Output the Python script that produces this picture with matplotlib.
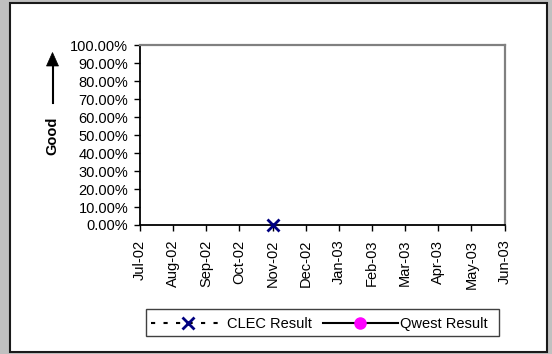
import matplotlib
matplotlib.use("Agg")
import matplotlib.pyplot as plt
from matplotlib.patches import Rectangle
from matplotlib.lines import Line2D
import numpy as np

months = ["Jul-02", "Aug-02", "Sep-02", "Oct-02", "Nov-02", "Dec-02",
          "Jan-03", "Feb-03", "Mar-03", "Apr-03", "May-03", "Jun-03"]
clec_result = [None, None, None, None, 0.0, None, None, None, None, None, None, None]
qwest_result = [None] * 12
y_ticks = [0.0, 0.1, 0.2, 0.3, 0.4, 0.5, 0.6, 0.7, 0.8, 0.9, 1.0]
series_names = ["CLEC Result", "Qwest Result"]

plt.rcParams['font.family'] = ['Liberation Sans', 'DejaVu Sans']

W, H = 552, 354
fig = plt.figure(figsize=(W / 100, H / 100), dpi=100)
fig.patch.set_facecolor('#c0c0c0')

def fx(px):
    return px / W

def fy(py):
    return 1 - py / H

# white panel with dark border
fig.patches.append(Rectangle((fx(10), fy(352)), fx(547) - fx(10), fy(3) - fy(352),
                             transform=fig.transFigure, facecolor='white',
                             edgecolor='#1a1a1a', linewidth=1.5, zorder=-10))

L, T, R, B = 140, 45.3, 504.5, 225
ax = fig.add_axes([fx(L), fy(B), fx(R) - fx(L), fy(T) - fy(B)])
ax.set_facecolor('white')
ax.set_zorder(1)

x = np.arange(len(months))
clec = np.array([np.nan if v is None else v for v in clec_result], dtype=float)
qwest = np.array([np.nan if v is None else v for v in qwest_result], dtype=float)

clec_style = dict(linestyle=(0, (2, 4)), color='black', linewidth=1.5,
                  marker='x', markersize=8, markeredgewidth=2, markeredgecolor='#000080')
qwest_style = dict(linestyle='-', color='black', linewidth=1.5,
                   marker='o', markersize=8, markerfacecolor='magenta', markeredgecolor='magenta')

ax.plot(x, clec, clip_on=False, zorder=5, **clec_style)
ax.plot(x, qwest, clip_on=False, zorder=5, **qwest_style)

ax.set_xlim(0, len(months) - 1)
ax.set_ylim(0, 1)
ax.set_xticks(x)
ax.set_xticklabels(months, rotation=90, fontsize=10.5)
ax.set_yticks(y_ticks)
ax.set_yticklabels([f"{v * 100:.2f}%" for v in y_ticks], fontsize=10.5)
ax.tick_params(axis='both', direction='out', length=4.5, width=1, color='black')
ax.tick_params(axis='y', pad=4)
ax.tick_params(axis='x', pad=6)

for side in ['left', 'bottom']:
    ax.spines[side].set_color('black')
    ax.spines[side].set_linewidth(1.3)
for side in ['right', 'top']:
    ax.spines[side].set_color('#808080')
    ax.spines[side].set_linewidth(1.6)

# "Good" label and arrow
fig.text(fx(52.5), fy(135.5), "Good", rotation=90, fontsize=10.5, fontweight='bold',
         ha='center', va='center')
fig.lines.append(Line2D([fx(52.5), fx(52.5)], [fy(103), fy(64)], transform=fig.transFigure,
                        color='black', linewidth=1.5))
fig.patches.append(plt.Polygon([[fx(46.5), fy(66)], [fx(58.5), fy(66)], [fx(52.5), fy(52.5)]],
                               closed=True, transform=fig.transFigure,
                               facecolor='black', edgecolor='black', linewidth=0.5))

# legend (drawn manually for exact placement)
lx0, ly0, lx1, ly1 = 146, 309, 499, 336
fig.patches.append(Rectangle((fx(lx0), fy(ly1)), fx(lx1) - fx(lx0), fy(ly0) - fy(ly1),
                             transform=fig.transFigure, facecolor='white',
                             edgecolor='#404040', linewidth=1.0, zorder=2))
ly = (ly0 + ly1) / 2
items = [(series_names[0], clec_style, 151, 225, 188, 227),
         (series_names[1], qwest_style, 323, 398, 360, 400)]
for name, st, hx0, hx1, mx, tx in items:
    line_only = {k: v for k, v in st.items() if not k.startswith('marker')}
    fig.lines.append(Line2D([fx(hx0), fx(hx1)], [fy(ly), fy(ly)], transform=fig.transFigure,
                            zorder=3, **line_only))
    fig.lines.append(Line2D([fx(mx)], [fy(ly)], transform=fig.transFigure, zorder=4,
                            linestyle='none',
                            **{k: v for k, v in st.items() if k.startswith('marker')}))
    fig.text(fx(tx), fy(ly), name, fontsize=10.5, ha='left', va='center_baseline', zorder=4)

fig.savefig("out.png", dpi=100, facecolor=fig.get_facecolor())
